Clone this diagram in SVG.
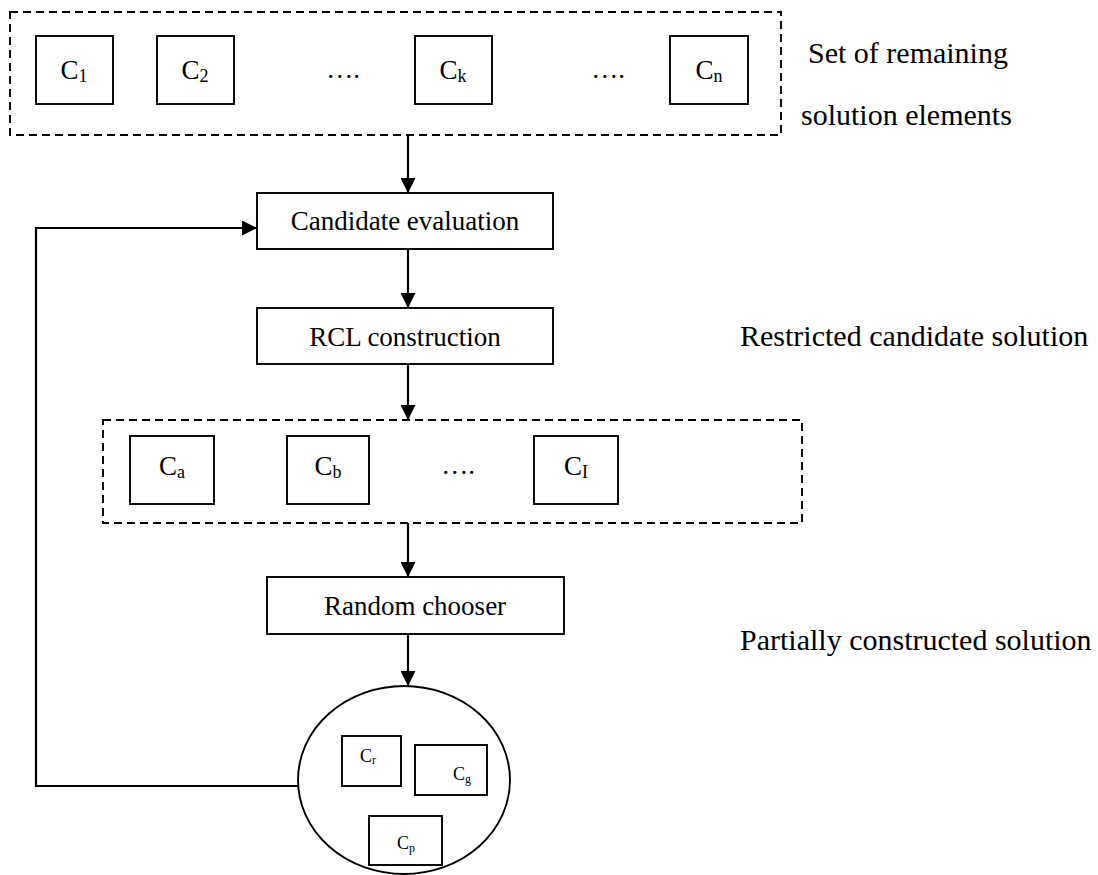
<svg xmlns="http://www.w3.org/2000/svg" width="1098" height="875" viewBox="0 0 1098 875">
<defs>
<style>
.box{fill:#fff;stroke:#000;stroke-width:1.9}
.dash{fill:none;stroke:#000;stroke-width:1.9;stroke-dasharray:8,5}
.con{fill:none;stroke:#000;stroke-width:2.2}
text{font-family:"Liberation Serif","Times New Roman",serif;fill:#000}
.lb{font-size:27px;text-anchor:middle}
.side{font-size:30px}
.sub{font-size:18px}
.sm{font-size:18px;text-anchor:middle}
.ssub{font-size:12px}
</style>
<marker id="ah" viewBox="0 0 10 10" refX="10" refY="5" markerWidth="15" markerHeight="15" markerUnits="userSpaceOnUse" orient="auto">
<path d="M0,0 L10,5 L0,10 z" fill="#000"/>
</marker>
</defs>
<rect width="1098" height="875" fill="#fff"/>

<g id="remaining-set">
<rect class="dash" x="10" y="12" width="771" height="123"/>
<g id="c1"><rect class="box" x="36" y="36" width="77" height="68"/><text class="lb" x="74" y="79">C<tspan class="sub" dy="3">1</tspan></text></g>
<g id="c2"><rect class="box" x="157" y="36" width="77" height="68"/><text class="lb" x="195" y="79">C<tspan class="sub" dy="3">2</tspan></text></g>
<text class="lb" x="343" y="78">….</text>
<g id="ck"><rect class="box" x="415" y="36" width="77" height="68"/><text class="lb" x="453" y="79">C<tspan class="sub" dy="3">k</tspan></text></g>
<text class="lb" x="608" y="78">….</text>
<g id="cn"><rect class="box" x="670" y="36" width="78" height="68"/><text class="lb" x="709" y="79">C<tspan class="sub" dy="3">n</tspan></text></g>
</g>
<g id="label-remaining">
<text class="side" x="808" y="63">Set of remaining</text>
<text class="side" x="801" y="125">solution elements</text>
</g>

<g id="candidate-evaluation"><rect class="box" x="257" y="193" width="296" height="56"/><text class="lb" x="405" y="230">Candidate evaluation</text></g>
<g id="rcl-construction"><rect class="box" x="257" y="308" width="296" height="56"/><text class="lb" x="405" y="346">RCL construction</text></g>
<g id="label-rcl"><text class="side" x="740" y="346">Restricted candidate solution</text></g>

<g id="rcl-set">
<rect class="dash" x="103" y="420" width="699" height="103"/>
<g id="ca"><rect class="box" x="130" y="436" width="84" height="68"/><text class="lb" x="172" y="475">C<tspan class="sub" dy="3">a</tspan></text></g>
<g id="cb"><rect class="box" x="287" y="436" width="82" height="68"/><text class="lb" x="328" y="475">C<tspan class="sub" dy="3">b</tspan></text></g>
<text class="lb" x="458" y="474">….</text>
<g id="ci"><rect class="box" x="534" y="436" width="84" height="68"/><text class="lb" x="576" y="475">C<tspan class="sub" dy="3">I</tspan></text></g>
</g>

<g id="random-chooser"><rect class="box" x="267" y="577" width="297" height="57"/><text class="lb" x="415" y="615">Random chooser</text></g>

<g id="partial-solution">
<ellipse cx="404" cy="780" rx="106" ry="94" fill="#fff" stroke="#000" stroke-width="1.9"/>
<g id="cr"><rect class="box" x="342" y="736" width="59" height="50"/><text class="sm" x="368" y="762">C<tspan class="ssub" dy="2">r</tspan></text></g>
<g id="cg"><rect class="box" x="415" y="745" width="72" height="50"/><text class="sm" x="462" y="780">C<tspan class="ssub" dy="3">g</tspan></text></g>
<g id="cp"><rect class="box" x="369" y="816" width="73" height="49"/><text class="sm" x="406" y="849">C<tspan class="ssub" dy="3">p</tspan></text></g>
</g>
<g id="label-partial"><text class="side" x="740" y="650">Partially constructed solution</text></g>

<g id="connectors">
<line class="con" x1="408" y1="135" x2="408" y2="193" marker-end="url(#ah)"/>
<line class="con" x1="408" y1="249" x2="408" y2="308" marker-end="url(#ah)"/>
<line class="con" x1="408" y1="364" x2="408" y2="420" marker-end="url(#ah)"/>
<line class="con" x1="408" y1="523" x2="408" y2="577" marker-end="url(#ah)"/>
<line class="con" x1="408" y1="634" x2="408" y2="686" marker-end="url(#ah)"/>
<polyline class="con" points="298,786 36,786 36,228 257,228" marker-end="url(#ah)"/>
</g>
</svg>
